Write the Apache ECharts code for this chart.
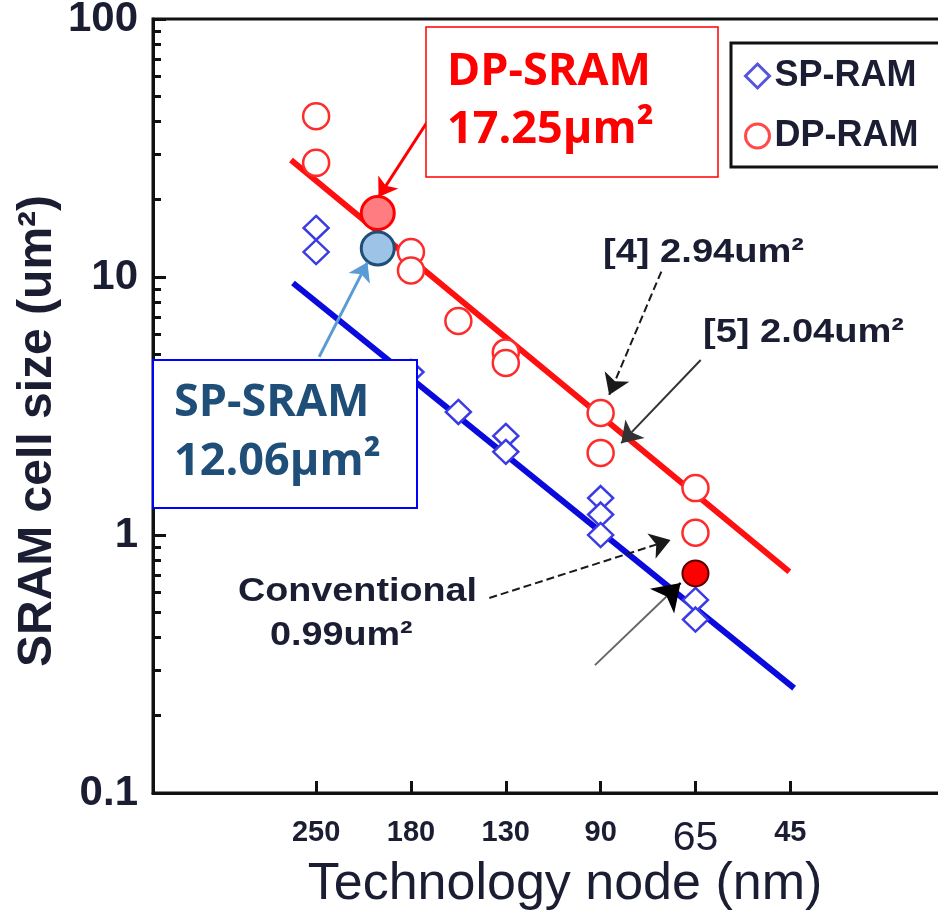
<!DOCTYPE html>
<html>
<head>
<meta charset="utf-8">
<script src="https://cdn.jsdelivr.net/npm/echarts@6/dist/echarts.min.js"></script>
<style>html,body{margin:0;padding:0;background:#fff}#c{width:938px;height:920px}</style>
</head>
<body>
<div id="c"></div>
<script>
// Technology node tick labels (x positions are category indices 0..5)
const nodeLabels = ['250', '180', '130', '90', '65', '45'];
const nodeIndex = [0, 1, 2, 3, 4, 5];
// SP-RAM (open diamonds)
const spX = [0, 0, 1, 1.5, 2, 2, 3, 3, 3, 4, 4];
const spY = [15.5, 12.5, 4.28, 3.0, 2.42, 2.1, 1.39, 1.2, 1.0, 0.56, 0.47];
// DP-RAM (open circles)
const dpX = [0, 0, 1, 1, 1.5, 2, 2, 3, 3, 4, 4];
const dpY = [42, 27.7, 12.5, 10.6, 6.75, 5.1, 4.64, 2.97, 2.08, 1.52, 1.02];
// Trend lines
const dpFitX = [-0.265, 4.99];
const dpFitY = [28.4, 0.72];
const spFitX = [-0.244, 5.04];
const spFitY = [9.48, 0.255];
// Highlighted points
const dpSramX = [0.65], dpSramY = [17.7];
const spSramX = [0.65], spSramY = [12.9];
const oursX = [4], oursY = [0.71];
// y axis ticks
const yMajor = [0.1, 1, 10, 100];
const yMinor = [0.2,0.3,0.4,0.5,0.6,0.7,0.8,0.9,2,3,4,5,6,7,8,9,20,30,40,50,60,70,80,90];
// Annotation arrows (data coords: [index, value])
const arrowRed = [[1.253, 44.4], [0.658, 20.4]];
const arrowBlue = [[0.032, 4.9], [0.541, 11.4]];
const arrow4 = [[3.64, 10.5], [3.09, 3.49]];
const arrow5 = [[4.055, 4.77], [3.217, 2.27]];
const arrowConv = [[1.826, 0.57], [3.737, 0.956]];
const arrowOurs = [[2.94, 0.313], [3.843, 0.652]];
const arrowOursHead = [[3.708, 0.583], [3.843, 0.652]];

const zip = (xs, ys) => xs.map((x, i) => [x, ys[i]]);
const sans = '"Liberation Sans", Arial, sans-serif';
const dark = '#1b1d33';

const chart = echarts.init(document.getElementById('c'), null, {renderer: 'canvas'});

function mk(pair, color, dashed, width, size, noHead) {
  return [
    {coord: pair[0], symbol: 'none', lineStyle: {color: color, type: dashed ? 'dashed' : 'solid', width: width}},
    {coord: pair[1], symbol: noHead ? 'none' : 'arrow', symbolSize: size}
  ];
}

const option = {
  animation: false,
  backgroundColor: '#fff',
  grid: {left: 153, right: -5, top: 19, bottom: 127, show: true, borderColor: '#111', borderWidth: 3,
         backgroundColor: 'transparent', outerBoundsMode: 'none', containLabel: false},
  legend: {
    orient: 'vertical', left: 731, top: 43,
    borderColor: '#111', borderWidth: 3, borderRadius: 0,
    padding: [15, 60, 13, 13], itemGap: 24, itemWidth: 24, itemHeight: 24,
    textStyle: {fontFamily: sans, fontWeight: 'bold', fontSize: 36, color: dark, lineHeight: 34},
    data: [
      {name: 'SP-RAM', icon: 'diamond', itemStyle: {color: '#fff', borderColor: '#5555dd', borderWidth: 3}},
      {name: 'DP-RAM', icon: 'circle', itemStyle: {color: '#fff', borderColor: '#ff4a4a', borderWidth: 3}}
    ]
  },
  xAxis: {
    type: 'value', min: -1.72, max: 6.61,
    name: 'Technology node (nm)', nameLocation: 'middle', nameGap: 66, nameMoveOverlap: false,
    nameTextStyle: {fontFamily: sans, fontSize: 52, color: dark, padding: [0, 0, 0, 34]},
    axisLine: {show: true, onZero: false, lineStyle: {color: '#111', width: 3}},
    axisTick: {show: true, inside: true, length: 12, customValues: nodeIndex, lineStyle: {color: '#111', width: 3}},
    splitLine: {show: false},
    axisLabel: {
      show: true, margin: 25, customValues: nodeIndex,
      formatter: function (v) {
        const t = nodeLabels[Math.round(v)];
        return t === '65' ? '{big|' + t + '}' : '{n|' + t + '}';
      },
      rich: {
        n: {fontFamily: sans, fontWeight: 'bold', fontSize: 29, color: dark},
        big: {fontFamily: sans, fontSize: 41, color: dark}
      }
    }
  },
  yAxis: [
    {
      type: 'log', logBase: 10, min: 0.1, max: 100,
      name: 'SRAM cell size (um\u00b2)', nameLocation: 'middle', nameGap: 91, nameRotate: 90, nameMoveOverlap: false,
      nameTextStyle: {fontFamily: sans, fontWeight: 'bold', fontSize: 48, color: dark, padding: [0, 50, 0, 0]},
      axisLine: {show: true, onZero: false, lineStyle: {color: '#111', width: 3}},
      axisTick: {show: true, inside: true, length: 13, customValues: yMajor, lineStyle: {color: '#111', width: 3}},
      splitLine: {show: false},
      minorTick: {show: false},
      axisLabel: {
        show: true, margin: 15, customValues: yMajor,
        fontFamily: sans, fontWeight: 'bold', fontSize: 42, color: dark,
        formatter: function (v) { return v >= 1 ? String(Math.round(v)) : String(v); }
      }
    },
    {
      type: 'log', logBase: 10, min: 0.1, max: 100, position: 'left',
      axisLine: {show: false, onZero: false},
      axisTick: {show: true, inside: true, length: 8, customValues: yMinor, lineStyle: {color: '#111', width: 3}},
      axisLabel: {show: false},
      splitLine: {show: false}
    }
  ],
  series: [
    {
      name: 'DP fit', type: 'line', data: zip(dpFitX, dpFitY), symbol: 'none', z: 1,
      lineStyle: {color: '#ff1010', width: 6}, silent: true
    },
    {
      name: 'SP fit', type: 'line', data: zip(spFitX, spFitY), symbol: 'none', z: 1,
      lineStyle: {color: '#0a0adc', width: 6}, silent: true
    },
    {
      name: 'SP-RAM', type: 'scatter', data: zip(spX, spY), symbol: 'diamond', symbolSize: [25, 24], z: 3,
      itemStyle: {color: '#fff', borderColor: '#3b3be6', borderWidth: 2.5, opacity: 1}
    },
    {
      name: 'DP-RAM', type: 'scatter', data: zip(dpX, dpY), symbol: 'circle', symbolSize: 26, z: 3,
      itemStyle: {color: '#fff', borderColor: '#ff2a2a', borderWidth: 2.5, opacity: 1}
    },
    {
      name: 'DP-SRAM', type: 'scatter', data: zip(dpSramX, dpSramY), symbol: 'circle', symbolSize: 33, z: 4,
      itemStyle: {color: '#ff7c80', borderColor: '#ff0000', borderWidth: 3, opacity: 1}
    },
    {
      name: 'SP-SRAM', type: 'scatter', data: zip(spSramX, spSramY), symbol: 'circle', symbolSize: 33, z: 4,
      itemStyle: {color: '#9dc3e6', borderColor: '#1f4e79', borderWidth: 3, opacity: 1}
    },
    {
      name: 'Ours65', type: 'scatter', data: zip(oursX, oursY), symbol: 'circle', symbolSize: 26, z: 4,
      itemStyle: {color: '#ff0000', borderColor: '#5a0000', borderWidth: 2, opacity: 1}
    },
    {
      name: 'arrows', type: 'line', data: [], z: 5, silent: true,
      markLine: {
        silent: true, animation: false, precision: 10,
        label: {show: false},
        emphasis: {disabled: true},
        data: [
          mk(arrowRed, '#ff0000', false, 3, 18),
          mk(arrowBlue, '#5b9bd5', false, 3, 18),
          mk(arrow4, '#1a1a1a', true, 2, 20),
          mk(arrow5, '#333', false, 2, 20),
          mk(arrowConv, '#1a1a1a', true, 2, 20),
          mk(arrowOurs, '#666', false, 2, 26, true),
          mk(arrowOursHead, '#000', false, 2, 26)
        ]
      }
    }
  ],
  graphic: [
    {type: 'rect', shape: {x: 426, y: 27, width: 292, height: 150}, style: {fill: '#fff', stroke: '#ff0000', lineWidth: 1.5}, z: 10},
    {type: 'text', x: 447, y: 72, style: {text: 'DP-SRAM', fill: '#ff0000', font: 'bold 45px "Open Sans", sans-serif', textVerticalAlign: 'middle'}, z: 11},
    {type: 'text', x: 447, y: 130, style: {text: '17.25\u03bcm\u00b2', fill: '#ff0000', font: 'bold 45px "Open Sans", sans-serif', textVerticalAlign: 'middle'}, z: 11},
    {type: 'rect', shape: {x: 153, y: 360, width: 264, height: 148}, style: {fill: '#fff', stroke: '#0000ff', lineWidth: 2}, z: 10},
    {type: 'text', x: 174, y: 403, style: {text: 'SP-SRAM', fill: '#1f4e79', font: 'bold 45px "Open Sans", sans-serif', textVerticalAlign: 'middle'}, z: 11},
    {type: 'text', x: 174, y: 462, style: {text: '12.06\u03bcm\u00b2', fill: '#1f4e79', font: 'bold 45px "Open Sans", sans-serif', textVerticalAlign: 'middle'}, z: 11},
    {type: 'text', x: 603, y: 253, scaleX: 1.12, style: {text: '[4] 2.94um\u00b2', fill: dark, font: 'bold 34px ' + sans, textVerticalAlign: 'middle'}, z: 11},
    {type: 'text', x: 703, y: 333, scaleX: 1.12, style: {text: '[5] 2.04um\u00b2', fill: dark, font: 'bold 34px ' + sans, textVerticalAlign: 'middle'}, z: 11},
    {type: 'text', x: 238, y: 592, scaleX: 1.11, style: {text: 'Conventional', fill: dark, font: 'bold 34px ' + sans, textVerticalAlign: 'middle'}, z: 11},
    {type: 'text', x: 270, y: 636, scaleX: 1.11, style: {text: '0.99um\u00b2', fill: dark, font: 'bold 34px ' + sans, textVerticalAlign: 'middle'}, z: 11}
  ]
};
chart.setOption(option);
</script>
</body>
</html>
